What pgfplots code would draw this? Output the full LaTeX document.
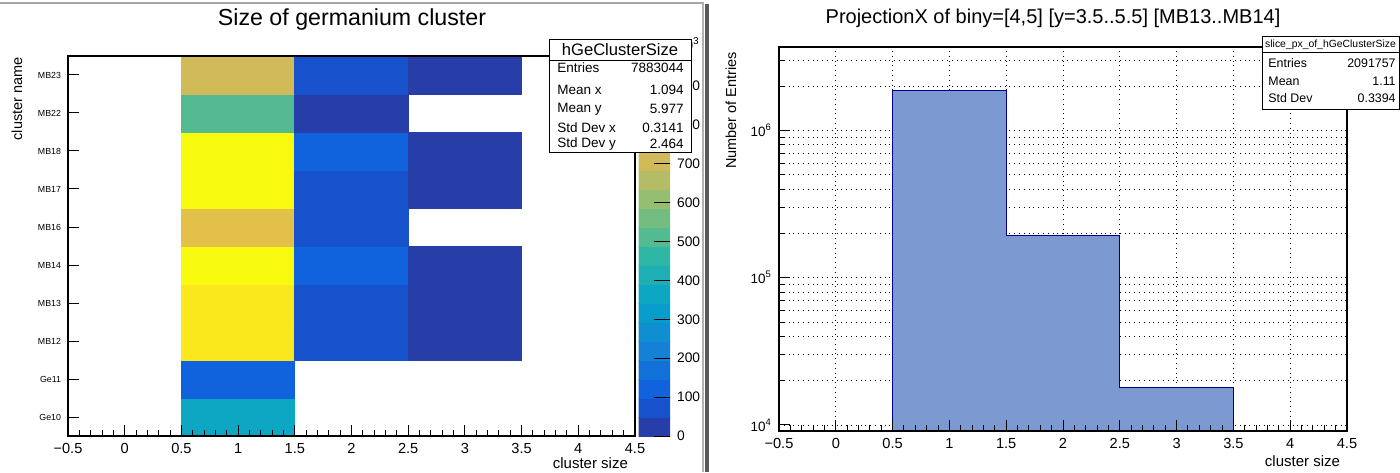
\documentclass[border=0pt]{standalone}
\usepackage{fontspec}
\setmainfont{Liberation Sans}
\usepackage{pgfplots}
\pgfplotsset{compat=1.18}

% ROOT kBird palette, 20 contour levels
\pgfplotsset{
  colormap={rootbird}{
    rgb=(0.152,0.240,0.658) rgb=(0.091,0.319,0.796) rgb=(0.063,0.388,0.863)
    rgb=(0.070,0.443,0.851) rgb=(0.078,0.502,0.839) rgb=(0.057,0.558,0.820)
    rgb=(0.034,0.615,0.801) rgb=(0.052,0.656,0.764) rgb=(0.116,0.687,0.704)
    rgb=(0.180,0.718,0.643) rgb=(0.324,0.731,0.570) rgb=(0.456,0.743,0.504)
    rgb=(0.587,0.746,0.443) rgb=(0.705,0.739,0.396) rgb=(0.821,0.734,0.348)
    rgb=(0.888,0.754,0.290) rgb=(0.961,0.776,0.227) rgb=(0.992,0.828,0.166)
    rgb=(0.984,0.909,0.108) rgb=(0.976,0.983,0.054)},
}
\definecolor{histfill}{RGB}{125,153,209}
\definecolor{histline}{RGB}{0,0,140}

\newcommand{\fs}[1]{\fontsize{#1}{#1}\selectfont}

\begin{document}
\begin{tikzpicture}
\path[use as bounding box] (0,0) rectangle (700pt,236pt);

% ---------------- left: 2D histogram ----------------
\begin{axis}[
  at={(34pt,18pt)}, anchor=south west, scale only axis,
  width=283.5pt, height=190pt,
  xmin=-0.5, xmax=4.5, ymin=-0.5, ymax=9.5,
  axis on top,
  xtick={-0.5,0,0.5,1,1.5,2,2.5,3,3.5,4,4.5},
  xticklabels={−0.5,0,0.5,1,1.5,2,2.5,3,3.5,4,4.5},
  minor x tick num=4,
  ytick={0,1,2,3,4,5,6,7,8,9},
  yticklabels={Ge10,Ge11,MB12,MB13,MB14,MB16,MB17,MB18,MB22,MB23},
  xtick pos=bottom, ytick pos=left, tick align=inside,
  major tick length=5.5pt, minor tick length=3pt,
  xticklabel style={font=\fs{7.3}},
  yticklabel style={font=\fs{4.4}},
  tick style={black, line width=0.5pt},
  axis line style={line width=0.6pt},
  xlabel={cluster size},
  xlabel style={at={(axis description cs:1,0)}, anchor=east, yshift=-13.5pt, font=\fs{7.5}},
  colormap name=rootbird, colormap access=piecewise constant,
  point meta min=0, point meta max=977,
]
\addplot[patch, patch type=rectangle, shader=flat, point meta=explicit]
  table[meta=c] {
x y c
0.5 -0.5 365
1.5 -0.5 365
1.5 0.5 365
0.5 0.5 365
0.5 0.5 120
1.5 0.5 120
1.5 1.5 120
0.5 1.5 120
0.5 1.5 900
1.5 1.5 900
1.5 2.5 900
0.5 2.5 900
1.5 1.5 80
2.5 1.5 80
2.5 2.5 80
1.5 2.5 80
2.5 1.5 9
3.5 1.5 9
3.5 2.5 9
2.5 2.5 9
0.5 2.5 915
1.5 2.5 915
1.5 3.5 915
0.5 3.5 915
1.5 2.5 84
2.5 2.5 84
2.5 3.5 84
1.5 3.5 84
2.5 2.5 9
3.5 2.5 9
3.5 3.5 9
2.5 3.5 9
0.5 3.5 965
1.5 3.5 965
1.5 4.5 965
0.5 4.5 965
1.5 3.5 110
2.5 3.5 110
2.5 4.5 110
1.5 4.5 110
2.5 3.5 9
3.5 3.5 9
3.5 4.5 9
2.5 4.5 9
0.5 4.5 760
1.5 4.5 760
1.5 5.5 760
0.5 5.5 760
1.5 4.5 80
2.5 4.5 80
2.5 5.5 80
1.5 5.5 80
0.5 5.5 977
1.5 5.5 977
1.5 6.5 977
0.5 6.5 977
1.5 5.5 80
2.5 5.5 80
2.5 6.5 80
1.5 6.5 80
2.5 5.5 9
3.5 5.5 9
3.5 6.5 9
2.5 6.5 9
0.5 6.5 955
1.5 6.5 955
1.5 7.5 955
0.5 7.5 955
1.5 6.5 110
2.5 6.5 110
2.5 7.5 110
1.5 7.5 110
2.5 6.5 9
3.5 6.5 9
3.5 7.5 9
2.5 7.5 9
0.5 7.5 515
1.5 7.5 515
1.5 8.5 515
0.5 8.5 515
1.5 7.5 30
2.5 7.5 30
2.5 8.5 30
1.5 8.5 30
0.5 8.5 700
1.5 8.5 700
1.5 9.5 700
0.5 9.5 700
1.5 8.5 80
2.5 8.5 80
2.5 9.5 80
1.5 9.5 80
2.5 8.5 9
3.5 8.5 9
3.5 9.5 9
2.5 9.5 9
};
\end{axis}

% ---------------- colour scale (20 contour levels, units of 10^3) ----------------
\begin{axis}[
  at={(319.25pt,18pt)}, anchor=south west, scale only axis,
  width=15.75pt, height=190pt,
  xmin=0, xmax=1, ymin=0, ymax=977,
  axis on top, axis line style={draw=none},
  xtick=\empty,
  ytick={0,100,200,300,400,500,600,700,800,900},
  ytick pos=right, yticklabel pos=right, tick align=inside,
  major tick length=8pt, scaled y ticks=false,
  tick style={black, line width=0.5pt},
  yticklabel style={font=\fs{6.9}, /pgf/number format/assume math mode=true},
  colormap name=rootbird, colormap access=piecewise constant,
  point meta min=0, point meta max=977,
]
\addplot[patch, patch type=rectangle, shader=flat, point meta=explicit]
  table[meta=c] {
x y c
0 0 24.4
1 0 24.4
1 48.85 24.4
0 48.85 24.4
0 48.85 73.3
1 48.85 73.3
1 97.7 73.3
0 97.7 73.3
0 97.7 122.1
1 97.7 122.1
1 146.55 122.1
0 146.55 122.1
0 146.55 171
1 146.55 171
1 195.4 171
0 195.4 171
0 195.4 219.8
1 195.4 219.8
1 244.25 219.8
0 244.25 219.8
0 244.25 268.7
1 244.25 268.7
1 293.1 268.7
0 293.1 268.7
0 293.1 317.5
1 293.1 317.5
1 341.95 317.5
0 341.95 317.5
0 341.95 366.4
1 341.95 366.4
1 390.8 366.4
0 390.8 366.4
0 390.8 415.2
1 390.8 415.2
1 439.65 415.2
0 439.65 415.2
0 439.65 464.1
1 439.65 464.1
1 488.5 464.1
0 488.5 464.1
0 488.5 512.9
1 488.5 512.9
1 537.35 512.9
0 537.35 512.9
0 537.35 561.8
1 537.35 561.8
1 586.2 561.8
0 586.2 561.8
0 586.2 610.6
1 586.2 610.6
1 635.05 610.6
0 635.05 610.6
0 635.05 659.5
1 635.05 659.5
1 683.9 659.5
0 683.9 659.5
0 683.9 708.3
1 683.9 708.3
1 732.75 708.3
0 732.75 708.3
0 732.75 757.2
1 732.75 757.2
1 781.6 757.2
0 781.6 757.2
0 781.6 806
1 781.6 806
1 830.45 806
0 830.45 806
0 830.45 854.9
1 830.45 854.9
1 879.3 854.9
0 879.3 854.9
0 879.3 903.7
1 879.3 903.7
1 928.15 903.7
0 928.15 903.7
0 928.15 952.6
1 928.15 952.6
1 977 952.6
0 977 952.6
};
\end{axis}

% ---------------- right: projection ----------------
\begin{axis}[
  ymode=log,
  at={(389.5pt,20.5pt)}, anchor=south west, scale only axis,
  width=284pt, height=192pt,
  xmin=-0.5, xmax=4.5, ymin=9100, ymax=3700000,
  xtick={-0.5,0,0.5,1,1.5,2,2.5,3,3.5,4,4.5},
  xticklabels={−0.5,0,0.5,1,1.5,2,2.5,3,3.5,4,4.5},
  minor x tick num=4,
  ytick={10000,100000,1000000},
  yticklabels={10\textsuperscript{4},10\textsuperscript{5},10\textsuperscript{6}},
  minor ytick={20000,30000,40000,50000,60000,70000,80000,90000,200000,300000,400000,500000,600000,700000,800000,900000,2000000,3000000},
  xtick pos=bottom, ytick pos=left, tick align=inside,
  major tick length=5.5pt, minor tick length=3pt,
  xmajorgrids, ymajorgrids, yminorgrids,
  grid style={black, dotted, line width=0.45pt},
  xticklabel style={font=\fs{7.3}},
  yticklabel style={font=\fs{6.75}},
  tick style={black, line width=0.5pt},
  axis line style={line width=0.6pt},
  xlabel={cluster size}, ylabel={Number of Entries},
  xlabel style={at={(axis description cs:1,0)}, anchor=east, yshift=-15pt, font=\fs{7.5}},
  ylabel style={at={(axis description cs:-0.0845,1.005)}, anchor=east, font=\fs{7.25}},
]
\addplot[const plot, fill=histfill, draw=histline, line width=0.6pt]
  coordinates {(0.5,1000) (0.5,1880000) (1.5,194000) (2.5,18000) (3.5,18000) (3.5,1000)};
\end{axis}
% the same frame once more, so that ticks and axis lines lie over the histogram
\begin{axis}[
  ymode=log,
  at={(389.5pt,20.5pt)}, anchor=south west, scale only axis,
  width=284pt, height=192pt,
  xmin=-0.5, xmax=4.5, ymin=9100, ymax=3700000,
  xtick={-0.5,0,0.5,1,1.5,2,2.5,3,3.5,4,4.5}, xticklabels={},
  minor x tick num=4,
  ytick={10000,100000,1000000}, yticklabels={},
  minor ytick={20000,30000,40000,50000,60000,70000,80000,90000,200000,300000,400000,500000,600000,700000,800000,900000,2000000,3000000},
  xtick pos=bottom, ytick pos=left, tick align=inside,
  major tick length=5.5pt, minor tick length=3pt,
  tick style={black, line width=0.5pt},
  axis line style={line width=0.6pt},
]
\addplot[draw=none] coordinates {(1,100000)};
\end{axis}

% titles and the left y title
\node[font=\fs{11.6}] at (176pt,226pt) {Size of germanium cluster};
\node[font=\fs{10}] at (526.5pt,227pt) {ProjectionX of biny=[4,5] [y=3.5..5.5] [MB13..MB14]};
\node[font=\fs{7.25}, rotate=90, anchor=east, inner sep=0pt] at (8.5pt,207.5pt) {cluster name};

% colour-scale exponent (mostly hidden behind the stats box)
\node[font=\fs{7}, anchor=east, inner sep=0pt] at (350pt,214pt) {×10\textsuperscript{3}};

% stats box, left
\draw[fill=white, line width=0.5pt] (274.5pt,216pt) rectangle (345.5pt,160pt);
\draw[line width=0.5pt] (274.5pt,205.5pt) -- (345.5pt,205.5pt);
\node[font=\fs{8.3}] at (310pt,211pt) {hGeClusterSize};
\begin{scope}[every node/.style={font=\fs{6.75}, inner sep=0pt}]
\node[anchor=west] at (278.5pt,202pt) {Entries};
\node[anchor=east] at (342pt,202pt) {7883044};
\node[anchor=west] at (278.5pt,191pt) {Mean x};
\node[anchor=east] at (342pt,191pt) {1.094};
\node[anchor=west] at (278.5pt,181.5pt) {Mean y};
\node[anchor=east] at (342pt,181.5pt) {5.977};
\node[anchor=west] at (278.5pt,172pt) {Std Dev x};
\node[anchor=east] at (342pt,172pt) {0.3141};
\node[anchor=west] at (278.5pt,164pt) {Std Dev y};
\node[anchor=east] at (342pt,164pt) {2.464};
\end{scope}

% stats box, right
\draw[fill=white, line width=0.5pt] (631pt,217.5pt) rectangle (699.5pt,181pt);
\draw[line width=0.5pt] (631pt,209.5pt) -- (699.5pt,209.5pt);
\node[font=\fs{5.2}] at (665.25pt,213.5pt) {slice\_px\_of\_hGeClusterSize};
\begin{scope}[every node/.style={font=\fs{6.2}, inner sep=0pt}]
\node[anchor=west] at (634pt,204.5pt) {Entries};
\node[anchor=east] at (698pt,204.5pt) {2091757};
\node[anchor=west] at (634pt,195.5pt) {Mean};
\node[anchor=east] at (698pt,195.5pt) {1.11};
\node[anchor=west] at (634pt,187pt) {Std Dev};
\node[anchor=east] at (698pt,187pt) {0.3394};
\end{scope}

% pad borders
\draw[black!35, line width=0.8pt] (0,234.5pt) -- (352pt,234.5pt);
\draw[black!65, line width=1.6pt] (353.5pt,0) -- (353.5pt,234pt);
\draw[black!30, line width=0.8pt] (351.5pt,0) -- (351.5pt,234.5pt);
\end{tikzpicture}
\end{document}
